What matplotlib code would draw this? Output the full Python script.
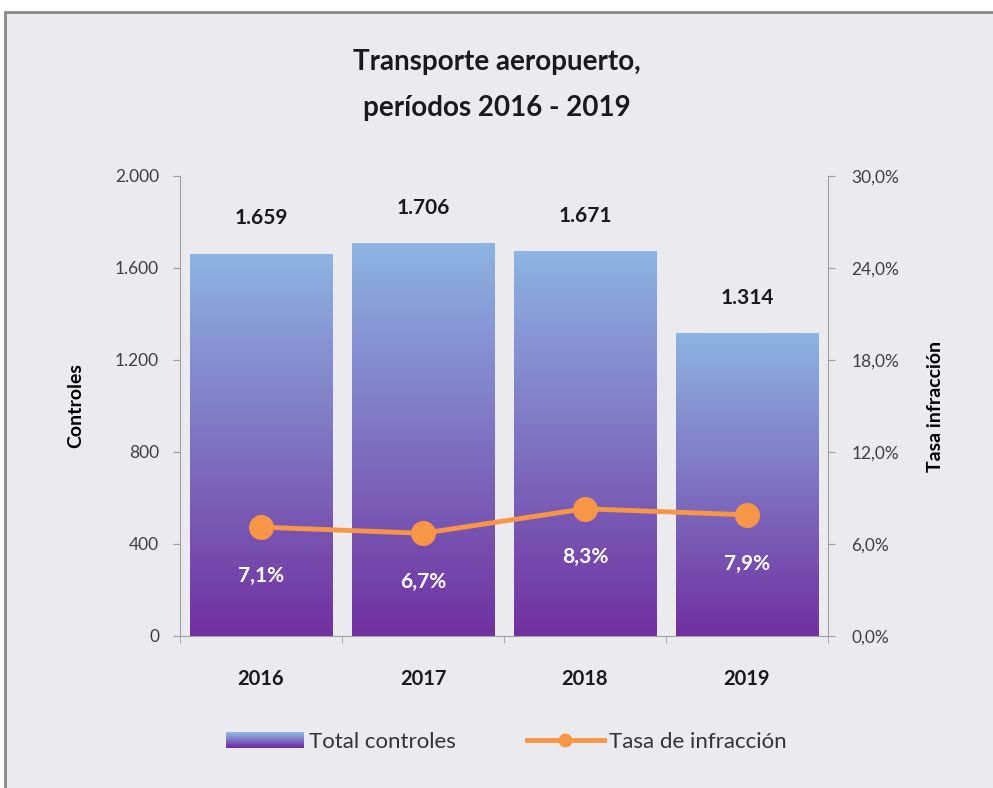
import numpy as np
import matplotlib.pyplot as plt
from matplotlib.colors import LinearSegmentedColormap
from matplotlib.patches import Rectangle
from matplotlib.legend_handler import HandlerBase
from matplotlib.lines import Line2D
from matplotlib.ticker import FuncFormatter

years = ['2016', '2017', '2018', '2019']
controles = [1659, 1706, 1671, 1314]
tasa = [7.1, 6.7, 8.3, 7.9]

plt.rcParams['font.family'] = ['Lato', 'DejaVu Sans']

bg = '#ebebef'
grad = LinearSegmentedColormap.from_list('g', ['#7030a0', '#8db4e2'])
orange = '#f79646'


def fmt_miles(v, pos):
    return f'{int(v):,}'.replace(',', '.')


def fmt_pct(v, pos):
    return f'{v:.1f}%'.replace('.', ',')


class GradHandler(HandlerBase):
    def create_artists(self, legend, orig, x0, y0, w, h, fontsize, trans):
        n = 8
        arts = []
        for i in range(n):
            r = Rectangle((x0, y0 + h * i / n), w, h / n, facecolor=grad(i / (n - 1)),
                          edgecolor='none', transform=trans)
            arts.append(r)
        return arts


fig = plt.figure(figsize=(9.93, 7.88), dpi=100, facecolor='white')
fig.patches.append(Rectangle((5 / 993, -0.01), 1.02, (788 - 12) / 788 + 0.01, transform=fig.transFigure,
                             facecolor=bg, edgecolor='#8a8a8a', linewidth=2, zorder=-10))

ax = fig.add_axes([180 / 993, 152 / 788, 648 / 993, 460 / 788])
ax.set_facecolor('none')
x = np.arange(len(years))
w = 0.88
bars = ax.bar(x, controles, width=w, color='none')
gimg = np.linspace(0, 1, 256).reshape(-1, 1)
for b in bars:
    bx, by = b.get_x(), b.get_y()
    ax.imshow(gimg, cmap=grad, origin='lower', aspect='auto',
              extent=[bx, bx + b.get_width(), by, by + b.get_height()], zorder=1)
for xi, v in zip(x, controles):
    ax.annotate(fmt_miles(v, None), (xi, v), xytext=(0, 26), textcoords='offset points',
                ha='center', va='center', fontsize=15, fontweight='bold', color='#1a1a1a')

ax.set_xlim(-0.5, 3.5)
ax.set_ylim(0, 2000)
ax.set_yticks(np.arange(0, 2001, 400))
ax.yaxis.set_major_formatter(FuncFormatter(fmt_miles))
ax.set_xticks(x)
ax.set_xticklabels(years, fontsize=14.5, fontweight='bold', color='#1a1a1a')
ax.set_xticks(np.arange(-0.5, 3.6, 1), minor=True)
ax.tick_params(axis='x', which='major', length=0, pad=24)
ax.tick_params(axis='x', which='minor', length=5, color='#a0a0a0')
ax.tick_params(axis='y', length=5, color='#a0a0a0', labelsize=12.5, labelcolor='#404040', pad=10)
ax.set_ylabel('Controles', fontsize=14, fontweight='bold', labelpad=22)
for s in ['top', 'right']:
    ax.spines[s].set_visible(False)
for s in ['left', 'bottom']:
    ax.spines[s].set_color('#a0a0a0')

ax2 = ax.twinx()
ax2.set_ylim(0, 30)
ax2.set_yticks(np.arange(0, 31, 6))
ax2.yaxis.set_major_formatter(FuncFormatter(fmt_pct))
ax2.tick_params(axis='y', length=5, color='#a0a0a0', labelsize=12.5, labelcolor='#404040', pad=12)
ax2.plot(x, tasa, color=orange, linewidth=3.5, marker='o', markersize=17, zorder=3)
for xi, v in zip(x, tasa):
    ax2.annotate(fmt_pct(v, None), (xi, v), xytext=(0, -35), textcoords='offset points',
                 ha='center', va='center', fontsize=15, fontweight='bold', color='white')
ax2.set_ylabel('Tasa infracción', fontsize=14, fontweight='bold', labelpad=20)
for s in ['top', 'left', 'bottom']:
    ax2.spines[s].set_visible(False)
ax2.spines['right'].set_color('#a0a0a0')

fig.text(0.5, 1 - 62 / 788, 'Transporte aeropuerto,', ha='center', va='center',
         fontsize=20, fontweight='bold', color='#1a1a1a')
fig.text(0.5, 1 - 108 / 788, 'períodos 2016 - 2019', ha='center', va='center',
         fontsize=20, fontweight='bold', color='#1a1a1a')

handles = [Rectangle((0, 0), 1, 1),
           Line2D([], [], color=orange, linewidth=3.5, marker='o', markersize=9)]
fig.legend(handles, ['Total controles', 'Tasa de infracción'], loc='center',
           bbox_to_anchor=(0.51, 1 - 742 / 788), ncol=2, frameon=False, fontsize=16,
           handler_map={Rectangle: GradHandler()}, handlelength=3.5, handletextpad=0.2,
           columnspacing=3.2, labelcolor='#333333')

fig.savefig('out.png', dpi=100, facecolor=fig.get_facecolor())
